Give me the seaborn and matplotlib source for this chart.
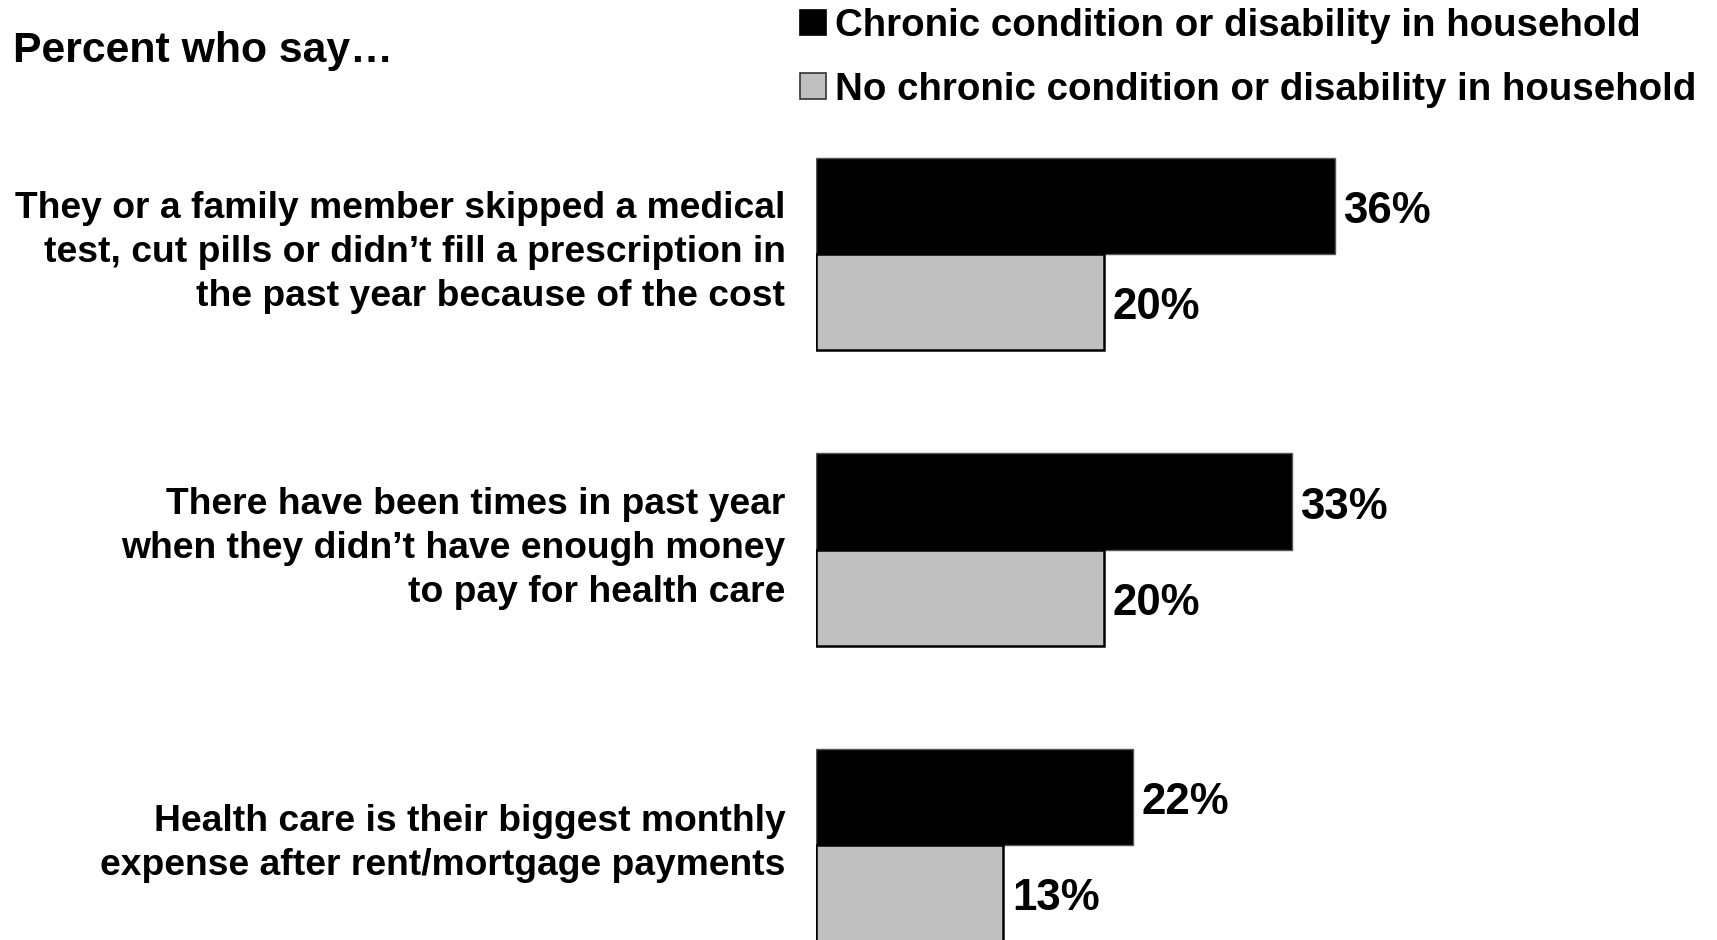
import matplotlib
matplotlib.use("Agg")
import matplotlib.pyplot as plt
import matplotlib.transforms as mtransforms
from matplotlib.patches import Patch
import seaborn as sns
import pandas as pd

# data
items = [
    "They or a family member skipped a medical\ntest, cut pills or didn\u2019t fill a prescription in\nthe past year because of the cost",
    "There have been times in past year\nwhen they didn\u2019t have enough money\nto pay for health care",
    "Health care is their biggest monthly\nexpense after rent/mortgage payments",
]
groups = [
    "Chronic condition or disability in household",
    "No chronic condition or disability in household",
]
chronic = [36, 33, 22]
no_chronic = [20, 20, 13]
colors = ["#000000", "#C0C0C0"]
edges = ["#555555", "#000000"]

df = pd.DataFrame({
    "item": items * 2,
    "pct": chronic + no_chronic,
    "group": [groups[0]] * 3 + [groups[1]] * 3,
})

sns.set_theme(style="white")
plt.rcParams["font.family"] = ["Liberation Sans", "DejaVu Sans"]
plt.rcParams["font.weight"] = "bold"
plt.rcParams["text.color"] = "black"
plt.rcParams["ytick.color"] = "black"
plt.rcParams["ytick.labelcolor"] = "black"

W, H = 1717, 940
fig = plt.figure(figsize=(W / 100, H / 100), dpi=100)
x0 = 816
ax = fig.add_axes([x0 / W, 0, 1 - x0 / W, 1])

sns.barplot(data=df, y="item", x="pct", hue="group", order=items, hue_order=groups,
            palette=colors, orient="h", width=0.65, dodge=True, legend=False, ax=ax)

for cont, ec, lw in zip(ax.containers, edges, [1.0, 1.8]):
    for bar in cont:
        bar.set_edgecolor(ec)
        bar.set_linewidth(lw)
    anns = ax.bar_label(cont, labels=[f"{int(v)}%" for v in cont.datavalues], padding=6,
                        fontsize=31.5, fontweight="bold", color="black")
    for a in anns:
        a.xyann = (6, -4)

ax.set_xlim(0, (W - x0) / 14.42)
ax.set_ylim(2.3215, -0.8596)
sns.despine(ax=ax, left=True, bottom=True)
ax.set_xticks([])
ax.set_xlabel("")
ax.set_ylabel("")
ax.set_yticks(range(len(items)))
ax.set_yticklabels(items, fontsize=26.8, fontweight="bold", linespacing=1.33, color="black")
ax.tick_params(axis="y", length=0, pad=22)
offset = mtransforms.ScaledTranslation(0, 7 / 72, fig.dpi_scale_trans)
for lab in ax.get_yticklabels():
    lab.set_transform(lab.get_transform() + offset)

fig.text(13 / W, 1 - 51 / H, "Percent who say\u2026", fontsize=30.8, fontweight="bold",
         ha="left", va="center", color="black")

handles = [Patch(facecolor=c, edgecolor=e, linewidth=1.2) for c, e in zip(colors, ["#000000", "#333333"])]
leg = fig.legend(handles, groups, loc="upper left", bbox_to_anchor=(800 / W, 1 - 8 / H),
                 frameon=False, handlelength=0.68, handleheight=0.64,
                 handletextpad=0.22, labelspacing=0.72, borderpad=0, borderaxespad=0,
                 prop={"weight": "bold", "size": 27.7})
for t in leg.get_texts():
    t.set_color("black")

fig.savefig("out.png", dpi=100)
